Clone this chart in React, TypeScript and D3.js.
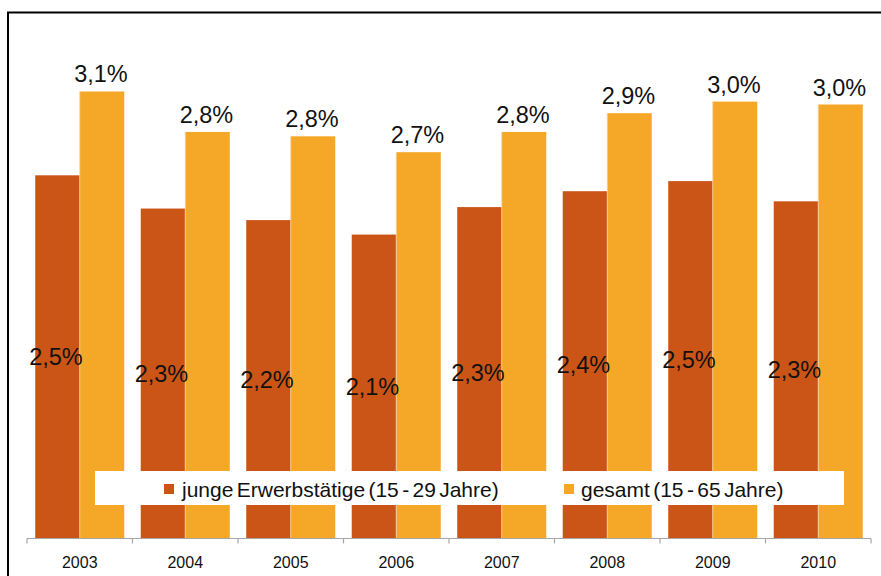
import React from "react";
import * as d3 from "d3";

const years = ["2003", "2004", "2005", "2006", "2007", "2008", "2009", "2010"];
const jungeValues = [2.51, 2.28, 2.2, 2.1, 2.29, 2.4, 2.47, 2.33];
const gesamtValues = [3.09, 2.81, 2.78, 2.67, 2.81, 2.94, 3.02, 3.0];
const seriesNames = ["junge Erwerbstätige (15 - 29 Jahre)", "gesamt (15 - 65 Jahre)"];
const seriesColors = ["#CB5516", "#F5A828"];

const W = 881;
const H = 576;
const FONT = "'Liberation Sans', Arial, sans-serif";

export default function App() {
  const x = d3.scaleBand<string>().domain(years).range([27, 871]).paddingInner(0).paddingOuter(0);
  const sub = d3
    .scaleBand<string>()
    .domain(["junge", "gesamt"])
    .range([0, x.bandwidth()])
    .paddingInner(0)
    .paddingOuter(0.185);
  const y = d3.scaleLinear().domain([0, 3.5]).range([538, 538 - 3.5 * 144.5]);
  const fmt = (v: number) => d3.format(".1f")(v).replace(".", ",") + "%";
  const baseY = y(0);
  const ticks = [...years.map((yr) => x(yr) as number), 871];

  return (
    <svg width={W} height={H} style={{ position: "absolute", left: 0, top: 0, background: "#fff" }}>
      <rect x={8} y={12.5} width={900} height={600} fill="none" stroke="#000" strokeWidth={2} />
      {years.map((yr, i) => {
        const x0 = x(yr) as number;
        const xd = x0 + (sub("junge") as number);
        const xg = x0 + (sub("gesamt") as number);
        const bw = sub.bandwidth();
        const yd = y(jungeValues[i]);
        const yg = y(gesamtValues[i]);
        return (
          <g key={yr}>
            <rect x={xd} y={yd} width={bw} height={baseY - yd} fill={seriesColors[0]} />
            <rect x={xg} y={yg} width={bw} height={baseY - yg} fill={seriesColors[1]} />
            <line x1={xg} x2={xg} y1={yg} y2={baseY} stroke="#F7D3A6" strokeWidth={0.8} />
            <text
              x={xg + bw / 2 - 1}
              y={yg - 9}
              textAnchor="middle"
              fontFamily={FONT}
              fontSize={23.5}
              fill="#111"
            >
              {fmt(gesamtValues[i])}
            </text>
            <text
              x={xd + bw / 2 - 1.5}
              y={(yd + baseY) / 2}
              dy="0.36em"
              textAnchor="middle"
              fontFamily={FONT}
              fontSize={23.5}
              fill="#111"
            >
              {fmt(jungeValues[i])}
            </text>
          </g>
        );
      })}
      {/* x axis */}
      <line x1={27} x2={871} y1={538.5} y2={538.5} stroke="#A6A6A6" strokeWidth={1.2} />
      {ticks.map((t, i) => (
        <line key={i} x1={t} x2={t} y1={538.5} y2={543.5} stroke="#A6A6A6" strokeWidth={1.2} />
      ))}
      {years.map((yr) => (
        <text
          key={yr}
          x={(x(yr) as number) + x.bandwidth() / 2}
          y={568}
          textAnchor="middle"
          fontFamily={FONT}
          fontSize={16}
          fill="#111"
        >
          {yr}
        </text>
      ))}
      {/* legend */}
      <rect x={95} y={471} width={749} height={34} fill="#fff" />
      <rect x={164} y={484} width={10} height={10} fill={seriesColors[0]} />
      <text x={182} y={497} fontFamily={FONT} fontSize={21} fill="#111" wordSpacing={-2.5}>
        {seriesNames[0]}
      </text>
      <rect x={564} y={484} width={10} height={10} fill={seriesColors[1]} />
      <text x={581} y={497} fontFamily={FONT} fontSize={21} fill="#111" wordSpacing={-2.5}>
        {seriesNames[1]}
      </text>
    </svg>
  );
}
